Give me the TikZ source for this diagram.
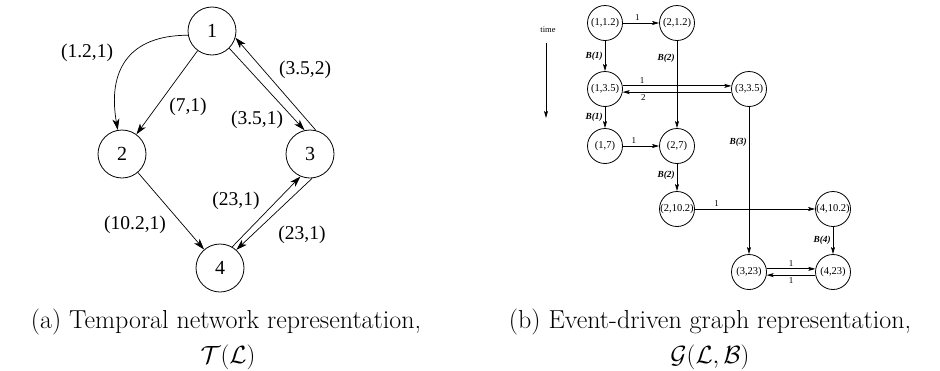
\documentclass[tikz,border=0pt]{standalone}
\usepackage{amsmath}
\usepackage{fontspec}
\newfontfamily\timesfont{Liberation Serif}
\usetikzlibrary{arrows.meta}

\begin{document}
\begin{tikzpicture}[x=1pt, y=-1pt,
    bignode/.style={circle, draw, line width=0.8pt, minimum size=48pt, inner sep=0pt, font=\timesfont\fontsize{20}{20}\selectfont},
    biglabel/.style={font=\timesfont\fontsize{19.5}{20}\selectfont, inner sep=0pt},
    bigarrow/.style={-{Stealth[length=11pt, width=7pt, inset=3pt]}, line width=0.7pt},
    event/.style={circle, draw, line width=0.8pt, minimum size=35pt, inner sep=0pt, font=\timesfont\fontsize{10.5}{11}\selectfont},
    smallarrow/.style={-{Stealth[length=7pt, width=4pt, inset=1.5pt]}, line width=0.8pt},
    elabel/.style={font=\timesfont\fontsize{9}{9}\selectfont, inner sep=2pt},
    blabel/.style={font=\timesfont\bfseries\itshape\fontsize{9.3}{10}\selectfont, inner sep=2pt},
    caption/.style={anchor=base, inner sep=0pt, font=\fontsize{26}{35}\selectfont}
]
\useasboundingbox (0,0) rectangle (940,370);

% (a) temporal network
\node[bignode] (n1) at (212,31) {1};
\node[bignode] (n2) at (122,154) {2};
\node[bignode] (n3) at (310,154) {3};
\node[bignode] (n4) at (220,268) {4};

\draw[bigarrow] (n1.190) to[out=180, in=100, looseness=1.3] (n2.100);
\draw[bigarrow] (n1) -- (n2);
\draw[bigarrow] (n1.-45) -- (n3.103);
\draw[bigarrow] (n3.76) -- (n1.-16);
\draw[bigarrow] (n2) -- (n4);
\draw[bigarrow] (n4.60) -- (n3.-113);
\draw[bigarrow] (n3.-85) -- (n4.48);

\node[biglabel] (l12a) at (87,53) {(1.2,1)};
\node[biglabel] (l12b) at (188,107) {(7,1)};
\node[biglabel] (l13) at (257,120) {(3.5,1)};
\node[biglabel] (l31) at (305,70) {(3.5,2)};
\node[biglabel] (l24) at (135,225) {(10.2,1)};
\node[biglabel] (l43) at (236,201) {(23,1)};
\node[biglabel] (l34) at (302,235) {(23,1)};

% (b) event-driven graph
\node[elabel, font=\timesfont\fontsize{8.5}{9}\selectfont] (time) at (548,30) {time};
\coordinate (tstart) at (546,43);
\coordinate (tend) at (546,118);
\draw[smallarrow] (tstart) -- (tend);

\node[event] (e11) at (605,23) {(1,1.2)};
\node[event] (e21) at (677,23) {(2,1.2)};
\node[event] (e135) at (605,89) {(1,3.5)};
\node[event] (e335) at (749,89) {(3,3.5)};
\node[event] (e17) at (605,146) {(1,7)};
\node[event] (e27) at (677,146) {(2,7)};
\node[event] (e2102) at (677,209) {(2,10.2)};
\node[event] (e4102) at (833,209) {(4,10.2)};
\node[event] (e323) at (749,272) {(3,23)};
\node[event] (e423) at (833,272) {(4,23)};

\draw[smallarrow] (e11) -- node[elabel, pos=.4, above] {1} (e21);
\draw[smallarrow] (e11) -- node[blabel, midway, left] {B(1)} (e135);
\draw[smallarrow] (e21) -- node[blabel, pos=.2, left] {B(2)} (e27);
\draw[smallarrow] (e135.10) -- node[elabel, pos=.18, above] {1} (e335.170);
\draw[smallarrow] (e335.-170) -- node[elabel, pos=.81, below] {2} (e135.-10);
\draw[smallarrow] (e135) -- node[blabel, midway, left] {B(1)} (e17);
\draw[smallarrow] (e17) -- node[elabel, pos=.3, above] {1} (e27);
\draw[smallarrow] (e335) -- node[blabel, pos=.24, left] {B(3)} (e323);
\draw[smallarrow] (e27) -- node[blabel, pos=.4, left] {B(2)} (e2102);
\draw[smallarrow] (e2102) -- node[elabel, pos=.18, above] {1} (e4102);
\draw[smallarrow] (e4102) -- node[blabel, midway, left] {B(4)} (e423);
\draw[smallarrow] (e323.10) -- node[elabel, midway, above] {1} (e423.170);
\draw[smallarrow] (e423.-170) -- node[elabel, midway, below] {1} (e323.-10);

% captions
\node[caption] (capa) at (226,328) {(a) Temporal network representation,};
\node[caption] (capa2) at (228,363) {$\mathcal{T}(\mathcal{L})$};
\node[caption] (capb) at (710,328) {(b) Event-driven graph representation,};
\node[caption] (capb2) at (710,363) {$\mathcal{G}(\mathcal{L},\mathcal{B})$};

\end{tikzpicture}
\end{document}
